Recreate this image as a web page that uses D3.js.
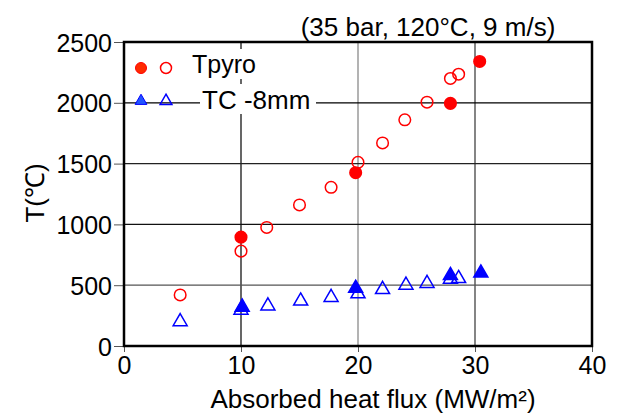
<!DOCTYPE html>
<html><head><meta charset="utf-8">
<script src="https://cdn.jsdelivr.net/npm/d3@7"></script>
<style>body{margin:0;background:#fff}svg{display:block}text{font-family:"Liberation Sans",Arial,sans-serif;fill:#000}</style>
</head><body><svg id="c" width="624" height="419"></svg>
<script>
const xTicks = [0, 10, 20, 30, 40];
const yTicks = [0, 500, 1000, 1500, 2000, 2500];
const pyroFilledX = [10.0, 19.8, 27.9, 30.4];
const pyroFilledY = [895, 1425, 1995, 2340];
const pyroOpenX = [4.8, 10.0, 12.2, 15.0, 17.7, 20.0, 22.1, 24.0, 25.9, 27.9, 28.6];
const pyroOpenY = [420, 780, 975, 1160, 1305, 1510, 1670, 1860, 2005, 2200, 2235];
const tcFilledX = [10.1, 19.8, 27.9, 30.5];
const tcFilledY = [320, 475, 580, 600];
const tcOpenX = [4.8, 10.0, 12.3, 15.1, 17.7, 20.0, 22.1, 24.1, 25.9, 27.9, 28.6];
const tcOpenY = [200, 295, 330, 370, 400, 430, 465, 500, 515, 550, 555];
const legendLabels = ["Tpyro", "TC -8mm"];

const svg = d3.select("#c");
const L = 124, R = 592, T = 42, B = 346;
const x = d3.scaleLinear().domain([0, 40]).range([L, R]);
const y = d3.scaleLinear().domain([0, 2500]).range([B, T]);

// grid
const vColors = {10: "#000", 20: "#808080", 30: "#333"};
[10, 20, 30].forEach(v => svg.append("line").attr("x1", x(v)).attr("x2", x(v)).attr("y1", T).attr("y2", B)
  .attr("stroke", vColors[v]).attr("stroke-width", 1.2));
const hColors = {500: "#555", 1000: "#111", 1500: "#222", 2000: "#000"};
[500, 1000, 1500, 2000].forEach(v => svg.append("line").attr("x1", L).attr("x2", R).attr("y1", y(v)).attr("y2", y(v))
  .attr("stroke", hColors[v]).attr("stroke-width", 1.2));

// axes
const xAxis = svg.append("g").attr("transform", `translate(0,${B})`)
  .call(d3.axisBottom(x).tickValues(xTicks).tickFormat(d3.format("d")).tickSize(6).tickPadding(4));
const yAxis = svg.append("g").attr("transform", `translate(${L},0)`)
  .call(d3.axisLeft(y).tickValues(yTicks).tickFormat(d3.format("d")).tickSize(10).tickPadding(2));
[xAxis, yAxis].forEach(a => {
  a.select(".domain").remove();
  a.selectAll(".tick line").attr("stroke", "#555").attr("stroke-width", 1);
  a.selectAll(".tick text").attr("font-size", 25).attr("font-family", "Liberation Sans, Arial, sans-serif").attr("fill", "#000");
});
yAxis.selectAll(".tick text").attr("dy", "0.36em");

// frame
svg.append("rect").attr("x", L).attr("y", T).attr("width", R - L).attr("height", B - T)
  .attr("fill", "none").attr("stroke", "#000").attr("stroke-width", 2.5);

// legend backgrounds and text
svg.append("rect").attr("x", 190).attr("y", 49).attr("width", 72).attr("height", 30).attr("fill", "#fff");
svg.append("rect").attr("x", 200).attr("y", 84).attr("width", 116).attr("height", 30).attr("fill", "#fff");
svg.append("text").attr("x", 192).attr("y", 73).attr("font-size", 25).text(legendLabels[0]);
svg.append("text").attr("x", 202).attr("y", 109).attr("font-size", 26).text(legendLabels[1]);

const tri = d3.symbol().type(d3.symbolTriangle).size(85);
function circles(xs, ys, filled) {
  svg.append("g").selectAll("circle").data(xs).join("circle")
    .attr("cx", d => x(d)).attr("cy", (d, i) => y(ys[i])).attr("r", 5.8)
    .attr("fill", filled ? "#ff0000" : "#fff").attr("fill-opacity", filled ? 1 : 0)
    .attr("stroke", "#ff0000").attr("stroke-width", 1.5);
}
function triangles(xs, ys, filled) {
  svg.append("g").selectAll("path").data(xs).join("path")
    .attr("d", tri).attr("transform", (d, i) => `translate(${x(d)},${y(ys[i])})`)
    .attr("fill", filled ? "#0000ff" : "none")
    .attr("stroke", "#0000ff").attr("stroke-width", 1.5);
}
circles(pyroOpenX, pyroOpenY, false);
circles(pyroFilledX, pyroFilledY, true);
triangles(tcOpenX, tcOpenY, false);
triangles(tcFilledX, tcFilledY, true);

// legend markers
svg.append("circle").attr("cx", 141).attr("cy", 68).attr("r", 5.5).attr("fill", "#ff2a00").attr("stroke", "#ff0000").attr("stroke-width", 1);
svg.append("circle").attr("cx", 166).attr("cy", 68).attr("r", 5.5).attr("fill", "none").attr("stroke", "#ff0000").attr("stroke-width", 1.5);
svg.append("path").attr("d", d3.symbol().type(d3.symbolTriangle).size(60)).attr("transform", "translate(141,101)")
  .attr("fill", "#2255ff").attr("stroke", "#0000ff").attr("stroke-width", 1);
svg.append("path").attr("d", d3.symbol().type(d3.symbolTriangle).size(60)).attr("transform", "translate(166,101)")
  .attr("fill", "none").attr("stroke", "#0000ff").attr("stroke-width", 1.5);

// titles
svg.append("text").attr("x", 428).attr("y", 36).attr("text-anchor", "middle").attr("font-size", 26).text("(35 bar, 120°C, 9 m/s)");
svg.append("text").attr("x", 373).attr("y", 408).attr("text-anchor", "middle").attr("font-size", 26).text("Absorbed heat flux (MW/m²)");
svg.append("text").attr("transform", "translate(44,193) rotate(-90)").attr("text-anchor", "middle").attr("font-size", 26).text("T(℃)");
</script></body></html>
